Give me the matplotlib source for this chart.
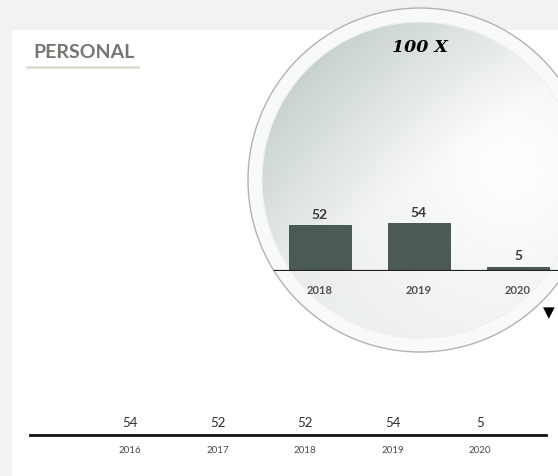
import numpy as np
import matplotlib
matplotlib.use("Agg")
import matplotlib.pyplot as plt
from matplotlib.patches import Circle, Rectangle

# data
years = ["2016", "2017", "2018", "2019", "2020"]
values = [54, 52, 52, 54, 5]
zoom_start = 2  # lupa muestra 2018-2020
title = "PERSONAL"
zoom_label = "100 X"

W, H = 558, 477
fig = plt.figure(figsize=(W / 100, H / 100), dpi=100)
fig.patch.set_facecolor("#f1f3f2")

def box(x0, y0, x1, y1):
    # pixel coords (top-left origin) -> figure fraction rect
    return [x0 / W, 1 - y1 / H, (x1 - x0) / W, (y1 - y0) / H]

# fondo, panel blanco, lupa
bg = fig.add_axes([0, 0, 1, 1], zorder=0)
bg.set_xlim(0, W)
bg.set_ylim(H, 0)
bg.axis("off")
bg.add_patch(Rectangle((12, 31), W - 12, H - 31, facecolor="white", edgecolor="none"))

cx, cy = 420, 181
outer = Circle((cx, cy), 172, facecolor="#f8f9f9", edgecolor="#b3b2ac", linewidth=1.0, zorder=2)
bg.add_patch(outer)
inner = Circle((cx, cy), 158, facecolor="none", edgecolor="#eef0ef", linewidth=0.8, zorder=4)
bg.add_patch(inner)

# brillo de la lente: oscuro arriba-izquierda, claro a la derecha
gx, gy = np.meshgrid(np.linspace(cx - 172, cx + 172, 300), np.linspace(cy - 172, cy + 172, 300))
rad = np.clip(np.hypot(gx - 510, gy - 170) / 250, 0, 1)
lin = np.clip(((gx - cx) * -0.6 + (gy - cy) * -0.8) / 158, 0, 1)
dk = 0.09 * rad + 0.14 * lin
tint = np.array([1.0, 0.8, 0.85])
grad = 1 - dk[..., None] * tint
im = bg.imshow(grad, extent=(cx - 172, cx + 172, cy + 172, cy - 172), zorder=3, interpolation="bilinear")
im.set_clip_path(Circle((cx, cy), 158, transform=bg.transData))

bg.text(33, 53, title, fontsize=14, fontfamily="Lato", fontweight="bold", color="#76756f",
        va="center", ha="left")
bg.plot([27, 138], [67.5, 67.5], color="#dcd8d0", linewidth=1.8)
bg.text(cx, 48, zoom_label, fontsize=12.5, fontfamily="DejaVu Serif", fontweight="bold",
        fontstyle="italic", color="black", ha="center", va="center", zorder=6)
bg.text(549, 313, "▼", fontsize=11, color="black", ha="center", va="center", zorder=6)

# grafico principal (escala real)
x = np.arange(len(years))
ax = fig.add_axes(box(30, 136, 546, 436), zorder=1)
ax.patch.set_alpha(0)
px_unit = 300
ax.set_ylim(0, px_unit / 0.0089)
ax.set_xlim(-100 / 87.5, 416 / 87.5)
ax.bar(x, values, width=0.7, color="#4b5957")
for s in ["top", "left", "right"]:
    ax.spines[s].set_visible(False)
ax.spines["bottom"].set_linewidth(2)
ax.spines["bottom"].set_color("#111111")
ax.set_yticks([])
ax.set_xticks(x)
ax.set_xticklabels(years, fontsize=7, fontfamily="Lato", color="#4a4a4a")
ax.tick_params(axis="x", length=0, pad=7)
for xi, v in zip(x, values):
    ax.annotate(str(v), (xi, 0), xytext=(0, 9), textcoords="offset points", ha="center",
                va="center", fontsize=9.5, fontfamily="Lato", color="#2e2e2e")

# vista aumentada
zx = x[zoom_start:]
zv = values[zoom_start:]
zy = years[zoom_start:]
az = fig.add_axes(box(240, 122, 600, 272), zorder=5)
az.patch.set_alpha(0)
az.set_xlim(2 - 80 / 99, 2 + 280 / 99)
az.set_ylim(0, 150 / 0.889)
az.axis("off")
clip = Circle((cx, cy), 171, transform=bg.transData)
bars = az.bar(zx, zv, width=62 / 99, color="#4b5957", edgecolor="#3d4a48", linewidth=0.6)
for b in bars:
    b.set_clip_path(clip)
base = az.axhline(0, color="#1e2222", linewidth=1.6)
base.set_clip_path(Circle((cx, cy), 172, transform=bg.transData))
for xi, v, yr in zip(zx, zv, zy):
    az.annotate(str(v), (xi, v), xytext=(0, 8), textcoords="offset points", ha="center",
                va="center", fontsize=10, fontfamily="Lato", fontweight="bold", color="#3a3a3a")
    az.annotate(yr, (xi, 0), xytext=(0, -13), textcoords="offset points", ha="center",
                va="center", fontsize=8, fontfamily="Lato", fontweight="bold", color="#505050")

fig.savefig("out.png", dpi=100, facecolor=fig.get_facecolor())
